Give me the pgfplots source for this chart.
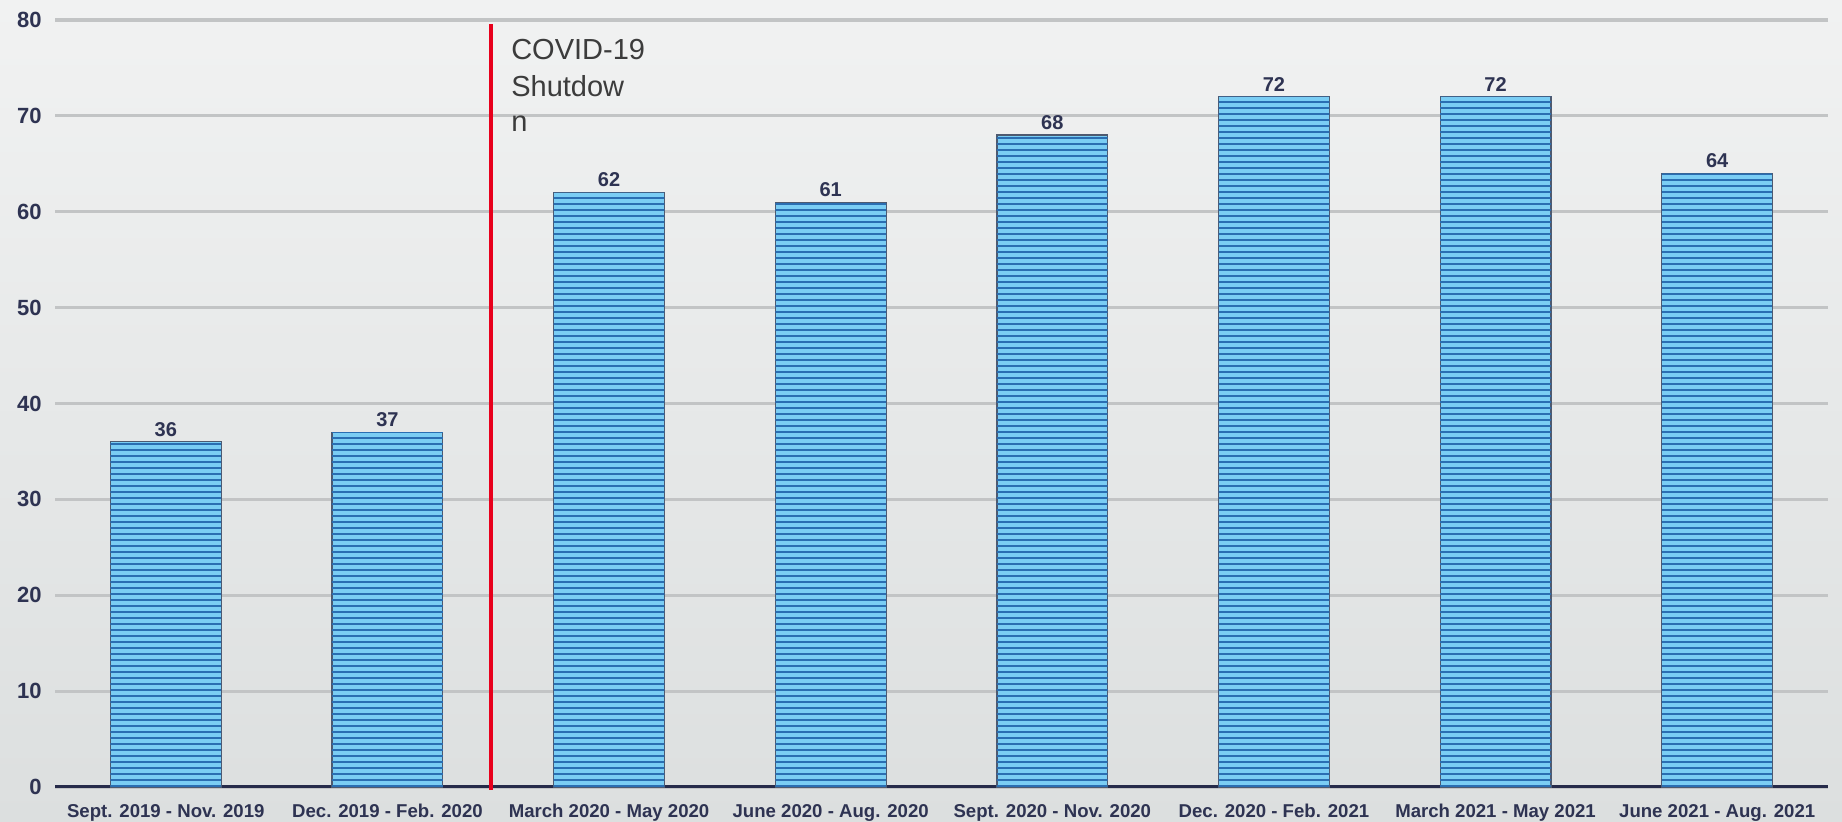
\documentclass[border=0pt]{standalone}
\usepackage{pgfplots}
\pgfplotsset{compat=1.18}
\usepackage{fontspec}
\setmainfont{Liberation Sans}
\usetikzlibrary{patterns.meta}

\definecolor{barlight}{HTML}{7ACDF4}
\definecolor{bardark}{HTML}{2A6EB2}
\definecolor{bardraw}{HTML}{4E5A70}
\definecolor{gridgray}{HTML}{C2C4C5}
\definecolor{axisnavy}{HTML}{262B4A}
\definecolor{labelnavy}{HTML}{2E3352}
\definecolor{covidred}{HTML}{E8001C}
\definecolor{covidtext}{HTML}{3C3C3C}
\definecolor{bgtop}{HTML}{F1F2F2}
\definecolor{bgbottom}{HTML}{DCDFDF}

\begin{document}
\begin{tikzpicture}
\shade[top color=bgtop, bottom color=bgbottom] (0,0) rectangle (921pt,411pt);
\begin{axis}[
    at={(27.5pt,17.5pt)}, anchor=south west,
    scale only axis, width=886.5pt, height=383.5pt,
    xmin=-0.5, xmax=7.5, ymin=0, ymax=80,
    xtick={0,...,7},
    xticklabels={Sept. 2019 - Nov. 2019, Dec. 2019 - Feb. 2020, March 2020 - May 2020, June 2020 - Aug. 2020, Sept. 2020 - Nov. 2020, Dec. 2020 - Feb. 2021, March 2021 - May 2021, June 2021 - Aug. 2021},
    ytick={0,10,...,80},
    axis x line*=bottom, axis y line*=left,
    x axis line style={draw=axisnavy, line width=1.5pt, -},
    y axis line style={draw=none},
    major tick length=0pt,
    ymajorgrids, grid style={draw=gridgray, line width=1.6pt},
    /pgf/number format/assume math mode=true,
    xticklabel style={font=\bfseries\fontsize{9.3}{11}\selectfont, text=labelnavy, anchor=north, inner sep=0pt, yshift=-8.5pt},
    yticklabel style={font=\bfseries\fontsize{11}{13}\selectfont, text=labelnavy, anchor=east, inner sep=0pt, xshift=-6.5pt},
    clip=false,
]
% base fill of the bars
\addplot[ybar, bar shift=0pt, bar width=0.5, fill=barlight, draw=bardraw, line width=0.6pt]
    coordinates {(0,36) (1,37) (2,62) (3,61) (4,68) (5,72) (6,72) (7,64)};
% horizontal stripes and value labels
\addplot[ybar, bar shift=0pt, bar width=0.5, draw=none,
    pattern={Lines[angle=0,distance=3pt,line width=1.4pt]}, pattern color=bardark,
    nodes near coords,
    every node near coord/.append style={font=\bfseries\fontsize{10}{12}\selectfont, text=labelnavy, inner sep=0pt, yshift=2.5pt}]
    coordinates {(0,36) (1,37) (2,62) (3,61) (4,68) (5,72) (6,72) (7,64)};
% shutdown marker
\addplot[draw=covidred, line width=2pt, forget plot] coordinates {(1.467,-0.3) (1.467,79.6)};
\node[anchor=base west, inner sep=0pt, font=\fontsize{14.5}{18}\selectfont, text=covidtext] at (axis cs:1.557,75.83) {COVID-19};
\node[anchor=base west, inner sep=0pt, font=\fontsize{14.5}{18}\selectfont, text=covidtext] at (axis cs:1.557,72.07) {Shutdow};
\node[anchor=base west, inner sep=0pt, font=\fontsize{14.5}{18}\selectfont, text=covidtext] at (axis cs:1.557,68.32) {n};
\end{axis}
\end{tikzpicture}
\end{document}
